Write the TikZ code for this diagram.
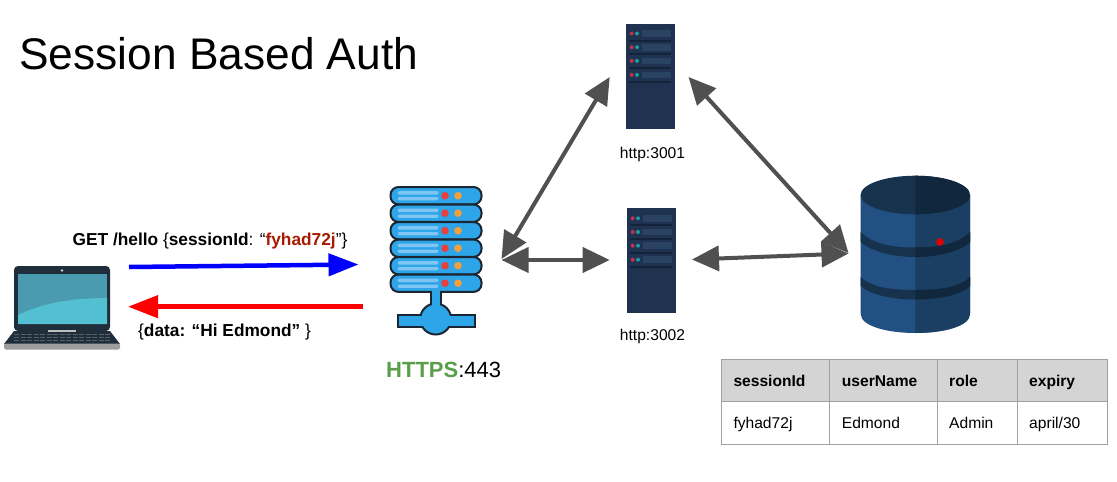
\documentclass[tikz,border=0pt]{standalone}
\usepackage{fontspec}
\setmainfont{Liberation Sans}
\usetikzlibrary{arrows.meta}
\definecolor{gdark}{HTML}{505050}
\definecolor{towerbg}{HTML}{1F3350}
\definecolor{towerrow}{HTML}{2A4363}
\definecolor{towerline}{HTML}{14233A}
\definecolor{ledred}{HTML}{C4304A}
\definecolor{ledteal}{HTML}{1E9AA0}
\definecolor{srvblue}{HTML}{2EA5E8}
\definecolor{srvline}{HTML}{1A2733}
\definecolor{srvstripe}{HTML}{7FC6F2}
\definecolor{srvred}{HTML}{E8403F}
\definecolor{srvorange}{HTML}{F59E3C}
\definecolor{dbleft}{HTML}{235082}
\definecolor{dbright}{HTML}{1B3F63}
\definecolor{dbtopl}{HTML}{16324C}
\definecolor{dbtopr}{HTML}{10273D}
\definecolor{httpsgreen}{HTML}{5A9E4B}
\definecolor{darkred}{HTML}{A61C00}
\definecolor{lapdark}{HTML}{1F2E3A}
\definecolor{scrdark}{HTML}{4A9BB0}
\definecolor{scrlight}{HTML}{52C0D0}
\definecolor{tablehead}{HTML}{D4D4D4}
\definecolor{tableline}{HTML}{A0A0A0}
\tikzset{
  biarrow/.style={draw=gdark,line width=4pt,{Triangle[length=27pt,width=25pt,fill=gdark]}-{Triangle[length=27pt,width=25pt,fill=gdark]},shorten >=0pt,shorten <=0pt},
  blueflow/.style={draw=blue,line width=4.5pt,-{Triangle[length=30pt,width=22pt,fill=blue]}},
  redflow/.style={draw=red,line width=4.5pt,-{Triangle[length=30pt,width=22pt,fill=red]}},
  lbl/.style={inner sep=0pt,anchor=base},
  msg/.style={inner sep=0pt,anchor=base west,font=\fontsize{17.3}{20}\selectfont},
  cellh/.style={inner sep=0pt,anchor=base west,font=\fontsize{15.6}{18}\selectfont\bfseries},
  cellb/.style={inner sep=0pt,anchor=base west,font=\fontsize{15.6}{18}\selectfont},
  tower/.pic={
    \fill[towerbg] (0,0) rectangle (49,105);
    \foreach \yy in {10,23.7,37.4,51.4}{
      \fill[towerrow] (15.5,\yy-3.4) rectangle (45,\yy+3.4);
      \fill[towerline] (2.5,\yy+6) rectangle (45,\yy+8);
      \fill[ledred] (5.7,\yy) circle (2pt);
      \fill[ledteal] (11,\yy) circle (2pt);
    }
  },
  srvrow/.pic={
    \draw[srvline,line width=2pt,fill=srvblue,rounded corners=8pt] (0,0) rectangle (91,17.4);
    \fill[srvstripe,rounded corners=1.5pt] (7,4) rectangle (48,7.6);
    \fill[srvstripe,rounded corners=1.5pt] (7,10) rectangle (48,13.4);
    \fill[srvred] (54.5,8.7) circle (3.8pt);
    \fill[srvorange] (67.5,8.7) circle (3.8pt);
  }
}
\begin{document}
\begin{tikzpicture}[x=1pt,y=-1pt]
\useasboundingbox (0,0) rectangle (1117,482);
\fill[white] (0,0) rectangle (1117,482);

% title
\node[lbl,anchor=base west,font=\fontsize{44.3}{50}\selectfont] (title) at (19,69.5) {Session Based Auth};

% laptop
\fill[lapdark,rounded corners=4pt] (14,266) rectangle (110,331);
\fill[scrdark] (18,273.5) rectangle (107,324);
\fill[scrlight] (18,315) .. controls (45,302) and (75,298) .. (107,298) -- (107,324) -- (18,324) -- cycle;
\fill[white!80!black] (62,270.5) circle (1.3pt);
\fill[lapdark] (14,331) -- (110,331) -- (120,344) -- (4,344) -- cycle;
\fill[white!75!black] (48,330) rectangle (76,331.5);
\foreach \yy in {334.5,337.5,340.5}{
  \draw[white!25!lapdark,line width=1pt,dash pattern=on 5pt off 1.5pt] (14,\yy) -- (111,\yy);
}
\fill[white!62!black,rounded corners=2pt] (4,343.5) rectangle (120,349.5);

% main server
\foreach \yy in {187,204.5,222,239.5,257,274.5}{
  \pic at (390.5,\yy) {srvrow};
}
\draw[srvline,line width=2pt,fill=srvblue] (430.5,292.5) rectangle (441,312);
\draw[srvline,line width=2pt,fill=srvblue] (397.5,315) rectangle (474.5,327);
\draw[srvline,line width=2pt,fill=srvblue] (435.7,319) circle (15.5pt);
\fill[srvblue] (431.5,290) rectangle (440,318);
\fill[srvblue] (399,316) rectangle (473,326);
\node[lbl,anchor=base west,font=\fontsize{22}{26}\selectfont] (https) at (386,377) {\textcolor{httpsgreen}{\textbf{HTTPS}}:443};

% towers
\pic at (626,23.5) {tower};
\pic at (627,208.3) {tower};
\node[lbl,font=\fontsize{15.6}{18}\selectfont] (t1label) at (652.5,158.5) {http:3001};
\node[lbl,font=\fontsize{15.6}{18}\selectfont] (t2label) at (652.5,340.5) {http:3002};

% database
\fill[dbleft] (860.7,195) -- (860.7,314) .. controls (860.7,326) and (887,333) .. (915.3,333) .. controls (944,333) and (970,326) .. (970,314) -- (970,195) -- cycle;
\begin{scope}
  \clip (915.3,170) rectangle (975,340);
  \fill[dbright] (860.7,195) -- (860.7,314) .. controls (860.7,326) and (887,333) .. (915.3,333) .. controls (944,333) and (970,326) .. (970,314) -- (970,195) -- cycle;
\end{scope}
\foreach \ya/\yb/\yc/\yd in {232/242/247.5/257,277/286/290/299.5}{
  \fill[dbtopl] (860.7,\ya) .. controls (872,\yb+2) and (893,\yc) .. (915.3,\yc) .. controls (938,\yc) and (959,\yb+2) .. (970,\ya)
    -- (970,\yb) .. controls (961,\yb+9) and (938,\yd) .. (915.3,\yd) .. controls (893,\yd) and (870,\yb+9) .. (860.7,\yb) -- cycle;
  \begin{scope}
    \clip (915.3,170) rectangle (975,340);
    \fill[dbtopr] (860.7,\ya) .. controls (872,\yb+2) and (893,\yc) .. (915.3,\yc) .. controls (938,\yc) and (959,\yb+2) .. (970,\ya)
      -- (970,\yb) .. controls (961,\yb+9) and (938,\yd) .. (915.3,\yd) .. controls (893,\yd) and (870,\yb+9) .. (860.7,\yb) -- cycle;
  \end{scope}
}
\fill[dbtopl] (915.3,195) ellipse [x radius=54.7pt,y radius=19.3pt];
\begin{scope}
  \clip (915.3,170) rectangle (975,220);
  \fill[dbtopr] (915.3,195) ellipse [x radius=54.7pt,y radius=19.3pt];
\end{scope}
\fill[red!90!black] (940,242) circle (3.8pt);

% flow arrows
\coordinate (bs) at (129,267);
\coordinate (be) at (358.5,264.5);
\coordinate (rs) at (363,306.7);
\coordinate (re) at (128,306.7);
\draw[blueflow] (bs) -- (be);
\draw[redflow] (rs) -- (re);
\node[msg] (req) at (72.5,245.5) {\textbf{GET /hello} \{\textbf{sessionId}: “\textcolor{darkred}{\textbf{fyhad72j}}”\}};
\node[msg] (res) at (138,336) {\{\textbf{data: “Hi Edmond” }\}};

% connectors between servers
\coordinate (srvA) at (501.5,259);
\coordinate (srvB) at (501.5,260);
\coordinate (t1l) at (609.7,77);
\coordinate (t2l) at (609.7,260);
\coordinate (t1r) at (688.5,77);
\coordinate (t2r) at (692,259.5);
\coordinate (dbA) at (848.5,253);
\coordinate (dbB) at (848.5,253.5);
\draw[biarrow] (srvA) -- (t1l);
\draw[biarrow] (srvB) -- (t2l);
\draw[biarrow] (t1r) -- (dbA);
\draw[biarrow] (t2r) -- (dbB);

% table
\fill[tablehead] (721.7,359.3) rectangle (1107.3,401.7);
\draw[tableline,line width=1.4pt] (721.7,359.3) rectangle (1107.3,444.3);
\draw[tableline,line width=1.4pt] (721.7,401.7) -- (1107.3,401.7);
\foreach \xx in {829.3,937.3,1017.3}{
  \draw[tableline,line width=1.4pt] (\xx,359.3) -- (\xx,444.3);
}
\node[cellh] (h1) at (733.3,386.5) {sessionId};
\node[cellh] (h2) at (841.7,386.5) {userName};
\node[cellh] (h3) at (949,386.5) {role};
\node[cellh] (h4) at (1029,386.5) {expiry};
\node[cellb] (c1) at (733.3,428) {fyhad72j};
\node[cellb] (c2) at (841.7,428) {Edmond};
\node[cellb] (c3) at (949,428) {Admin};
\node[cellb] (c4) at (1029,428) {april/30};
\end{tikzpicture}
\end{document}
